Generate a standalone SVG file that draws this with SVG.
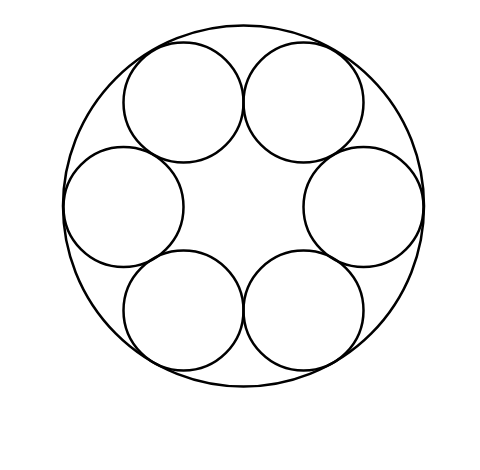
<svg xmlns="http://www.w3.org/2000/svg" width="480" height="470" viewBox="0 0 480 470">
<style>circle{fill:none;stroke:#000;stroke-width:2.5}</style>
<rect width="480" height="470" fill="#fff"/>
<g id="outer"><circle cx="243.5" cy="206" r="180.5"/></g>
<g id="c1"><circle cx="123.5" cy="207" r="60"/></g>
<g id="c2"><circle cx="363.5" cy="207" r="60"/></g>
<g id="c3"><circle cx="183.5" cy="102.5" r="60"/></g>
<g id="c4"><circle cx="303.5" cy="102.5" r="60"/></g>
<g id="c5"><circle cx="183.5" cy="310.5" r="60"/></g>
<g id="c6"><circle cx="303.5" cy="310.5" r="60"/></g>
</svg>
